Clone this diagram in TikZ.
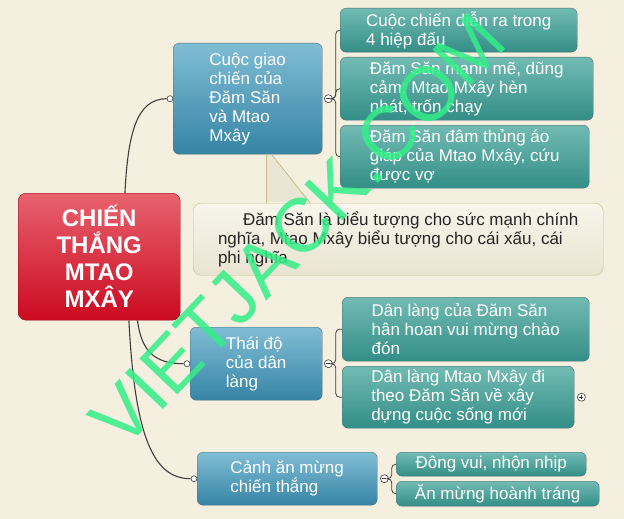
\documentclass[tikz,border=0pt]{standalone}
\usepackage{fontspec}
\setmainfont{Liberation Sans}
\definecolor{paper}{HTML}{F5EFE0}
\definecolor{redtop}{HTML}{E8626E}
\definecolor{redbot}{HTML}{CB0A20}
\definecolor{bluetop}{HTML}{80BDD4}
\definecolor{bluebot}{HTML}{3684A6}
\definecolor{tealtop}{HTML}{72BBB3}
\definecolor{tealbot}{HTML}{338E87}
\definecolor{notetop}{HTML}{F8F5EB}
\definecolor{notebot}{HTML}{E9E4D2}
\definecolor{notetip}{HTML}{EAE6D6}
\definecolor{noteline}{HTML}{CDBB82}
\definecolor{boxline}{HTML}{4F6E74}
\definecolor{wire}{HTML}{3E3E3E}
\definecolor{mark}{HTML}{33EE88}
\tikzset{
  box/.style={draw=boxline, rounded corners=6pt, text=white, align=left, inner sep=0pt,
    anchor=north west, font=\fontsize{17}{19}\selectfont},
  topic/.style={box, top color=bluetop, bottom color=bluebot},
  leaf/.style={box, top color=tealtop, bottom color=tealbot},
  conn/.style={draw=wire, line width=1.1pt},
  knob/.style={circle, draw=wire, fill=white, inner sep=0pt, minimum size=6pt, line width=0.6pt},
  minusknob/.style={knob, minimum size=8pt, path picture={\draw[wire, line width=0.6pt]
    ([xshift=-2pt]path picture bounding box.center) -- ([xshift=2pt]path picture bounding box.center);}},
  plusknob/.style={minusknob, path picture={\draw[wire, line width=0.6pt]
    ([xshift=-2pt]path picture bounding box.center) -- ([xshift=2pt]path picture bounding box.center)
    ([yshift=-2pt]path picture bounding box.center) -- ([yshift=2pt]path picture bounding box.center);}}
}
\begin{document}
\begin{tikzpicture}[x=1pt,y=-1pt]
        % Background
        \fill[paper] (0,0) rectangle (624,519);
        % Central topic
        \node[draw=redbot!70!black, rounded corners=8pt, top color=redtop, bottom color=redbot, text=white,
              align=center, inner sep=0pt, anchor=north west, minimum width=162pt, minimum height=127pt,
              font=\fontsize{24}{27}\selectfont\bfseries] (hub) at (18,193) {CHIẾN\\THẮNG\\MTAO\\MXÂY};
        % Main branches
        \node[topic, minimum width=149pt, minimum height=111pt] (b1) at (173,43) {Cuộc giao\\chiến của\\Đăm Săn\\và Mtao\\Mxây};
        \node[topic, minimum width=132pt, minimum height=73pt] (b2) at (190,327) {Thái độ\\của dân\\làng};
        \node[topic, minimum width=180pt, minimum height=53pt] (b3) at (197,452) {Cảnh ăn mừng\\chiến thắng};
        % Sub-topics of the fight
        \node[leaf, minimum width=237pt, minimum height=44pt] (c1) at (340,8) {Cuộc chiến diễn ra trong\\4 hiệp đấu};
        \node[leaf, minimum width=253pt, minimum height=63pt] (c2) at (340,57) {Đăm Săn mạnh mẽ, dũng\\cảm; Mtao Mxây hèn\\nhát, trốn chạy};
        \node[leaf, minimum width=249pt, minimum height=63pt] (c3) at (340,125) {Đăm Săn đâm thủng áo\\giáp của Mtao Mxây, cứu\\được vợ};
        % Sub-topics of the villagers
        \node[leaf, minimum width=247pt, minimum height=64pt] (d1) at (342,297) {Dân làng của Đăm Săn\\hân hoan vui mừng chào\\đón};
        \node[leaf, minimum width=232pt, minimum height=62pt] (d2) at (342,366) {Dân làng Mtao Mxây đi\\theo Đăm Săn về xây\\dựng cuộc sống mới};
        % Sub-topics of the feast
        \node[leaf, minimum width=190pt, minimum height=24pt] (e1) at (396,452) {Đông vui, nhộn nhịp};
        \node[leaf, minimum width=203pt, minimum height=25pt] (e2) at (396,481) {Ăn mừng hoành tráng};
        % Callout note
        \node[draw=noteline, rounded corners=8pt, top color=notetop, bottom color=notebot, text=black!85,
              align=left, inner sep=0pt, anchor=north west, minimum width=410pt, minimum height=72pt,
              font=\fontsize{17}{19}\selectfont] (note) at (193,203)
              {\hspace*{25pt}Đăm Săn là biểu tượng cho sức mạnh chính\\nghĩa, Mtao Mxây biểu tượng cho cái xấu, cái\\phi nghĩa};
        \coordinate (tipa) at (266,155);
        \coordinate (tipb) at (272,155);
        \coordinate (basea) at (266,203);
        \coordinate (baseb) at (310,203);
        \fill[notetip] (tipa) -- ([yshift=1.5pt]basea) -- ([yshift=1.5pt]baseb) -- (tipb) -- cycle;
        \draw[noteline, line width=0.8pt] (tipa) -- (basea);
        \draw[noteline, line width=0.8pt] (tipb) -- (baseb);
        % Hub connectors
        \node[knob] (k1) at ([xshift=-3pt]b1.west) {};
        \node[knob] (k2) at ([xshift=-3pt]b2.west) {};
        \node[knob] (k3) at ([xshift=-3pt]b3.west) {};
        \draw[conn] (hub.68) .. controls +(3,-60) and +(-30,0) .. (k1.west);
        \draw[conn] (hub.-59) .. controls +(4,32) and +(-28,0) .. (k2.west);
        \draw[conn] (hub.-65) .. controls +(6,120) and +(-36,0) .. (k3.west);
        % Brackets
        \node[minusknob] (m1) at ([xshift=6pt]b1.east) {};
        \node[minusknob] (m2) at ([xshift=6pt]b2.east) {};
        \node[minusknob] (m3) at ([xshift=7pt]b3.east) {};
        \foreach \kid in {c1,c2,c3}
            \draw[draw=wire, line width=0.8pt, rounded corners=4pt] (m1.east) -- ++(3,0) |- (\kid.west);
        \foreach \kid in {d1,d2}
            \draw[draw=wire, line width=0.8pt, rounded corners=4pt] (m2.east) -- ++(3,0) |- (\kid.west);
        \foreach \kid in {e1,e2}
            \draw[draw=wire, line width=0.8pt, rounded corners=4pt] (m3.east) -- ++(3,0) |- (\kid.west);
        \node[plusknob] (p1) at ([xshift=7pt]d2.east) {};
        % Watermark
        \node[text=mark, opacity=0.85, rotate=46.5, font=\fontsize{76}{76}\selectfont] (wm) at (298,230) {VIETJACK.COM};
    \end{tikzpicture}
\end{document}
